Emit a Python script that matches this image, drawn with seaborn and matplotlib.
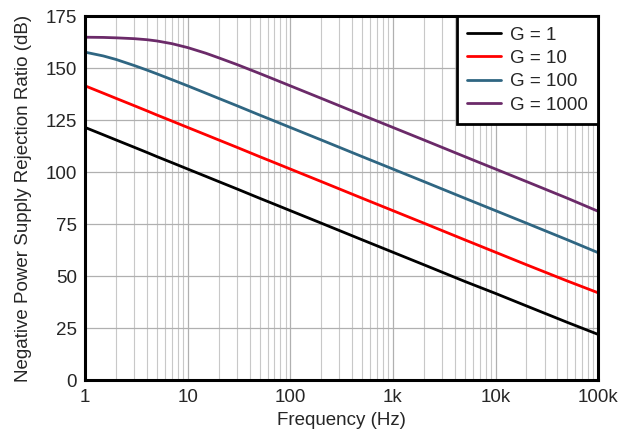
import numpy as np
import pandas as pd
import seaborn as sns
import matplotlib.pyplot as plt
from matplotlib.ticker import FixedLocator, FixedFormatter, LogLocator, NullFormatter

# frequencies (Hz) and PSRR (dB)
freq = [1, 1.5, 2, 3, 4, 5, 7, 10, 15, 20, 30, 50, 70, 100, 200, 500,
        1000, 2000, 5000, 10000, 20000, 50000, 100000]
g1 = [121.5, 118, 115.5, 112, 109.5, 107.5, 104.6, 101.5, 98, 95.5, 92, 87.5,
      84.6, 81.5, 75.5, 67.5, 61.5, 55.5, 47.5, 41.7, 35.7, 27.8, 22]
g10 = [141.5, 138, 135.5, 132, 129.5, 127.5, 124.6, 121.5, 118, 115.5, 112,
       107.5, 104.6, 101.5, 95.5, 87.5, 81.5, 75.5, 67.5, 61.5, 55.5, 47.7, 42]
g100 = [157.7, 155.9, 154.2, 151.3, 149.1, 147.3, 144.5, 141.5, 138, 135.5,
        132, 127.5, 124.6, 121.5, 115.5, 107.5, 101.5, 95.5, 87.5, 81.5,
        75.5, 67.5, 61.3]
g1000 = [164.9, 164.8, 164.6, 164.2, 163.7, 163.1, 161.8, 159.9, 157.2, 155,
         151.8, 147.5, 144.6, 141.5, 135.5, 127.5, 121.5, 115.5, 107.5, 101.5,
         95.5, 87.5, 81.2]

labels = ["G = 1", "G = 10", "G = 100", "G = 1000"]
colors = ["#000000", "#FF0000", "#2F6682", "#6B2A69"]

df = pd.concat([
    pd.DataFrame({"f": freq, "psrr": vals, "gain": lab})
    for vals, lab in zip([g1, g10, g100, g1000], labels)
])

sns.set_style("white")
plt.rcParams["font.family"] = ["Liberation Sans", "DejaVu Sans"]

fig = plt.figure(figsize=(6.31, 4.38), dpi=100)
ax = fig.add_axes([0.135, 0.132, 0.813, 0.831])

sns.lineplot(data=df, x="f", y="psrr", hue="gain", palette=colors,
             hue_order=labels, linewidth=2, ax=ax)

ax.set_xscale("log")
ax.set_xlim(1, 100000)
ax.set_ylim(0, 175)
ax.set_yticks(np.arange(0, 176, 25))
ax.xaxis.set_major_locator(FixedLocator([1, 10, 100, 1000, 10000, 100000]))
ax.xaxis.set_major_formatter(FixedFormatter(["1", "10", "100", "1k", "10k", "100k"]))
ax.xaxis.set_minor_locator(LogLocator(base=10, subs=np.arange(2, 10)))
ax.xaxis.set_minor_formatter(NullFormatter())

ax.grid(True, which="major", axis="both", color="#b0b0b0", linewidth=0.9)
ax.grid(True, which="minor", axis="x", color="#c8c8c8", linewidth=0.8)
ax.set_axisbelow(True)

for s in ax.spines.values():
    s.set_color("black")
    s.set_linewidth(2.2)

ax.tick_params(axis="both", which="major", labelsize=13.5, length=0, pad=6)
ax.tick_params(axis="x", which="minor", length=0)

ax.set_xlabel("Frequency (Hz)", fontsize=13.5, labelpad=5)
ax.set_ylabel("Negative Power Supply Rejection Ratio (dB)", fontsize=13.5, labelpad=10)

leg = ax.legend(loc="upper right", borderaxespad=0, fancybox=False,
                edgecolor="black", fontsize=13.5, handlelength=1.8,
                handletextpad=0.5, framealpha=1, borderpad=0.55,
                labelspacing=0.33)
leg.get_frame().set_linewidth(2)

fig.savefig("out.png", dpi=100)
